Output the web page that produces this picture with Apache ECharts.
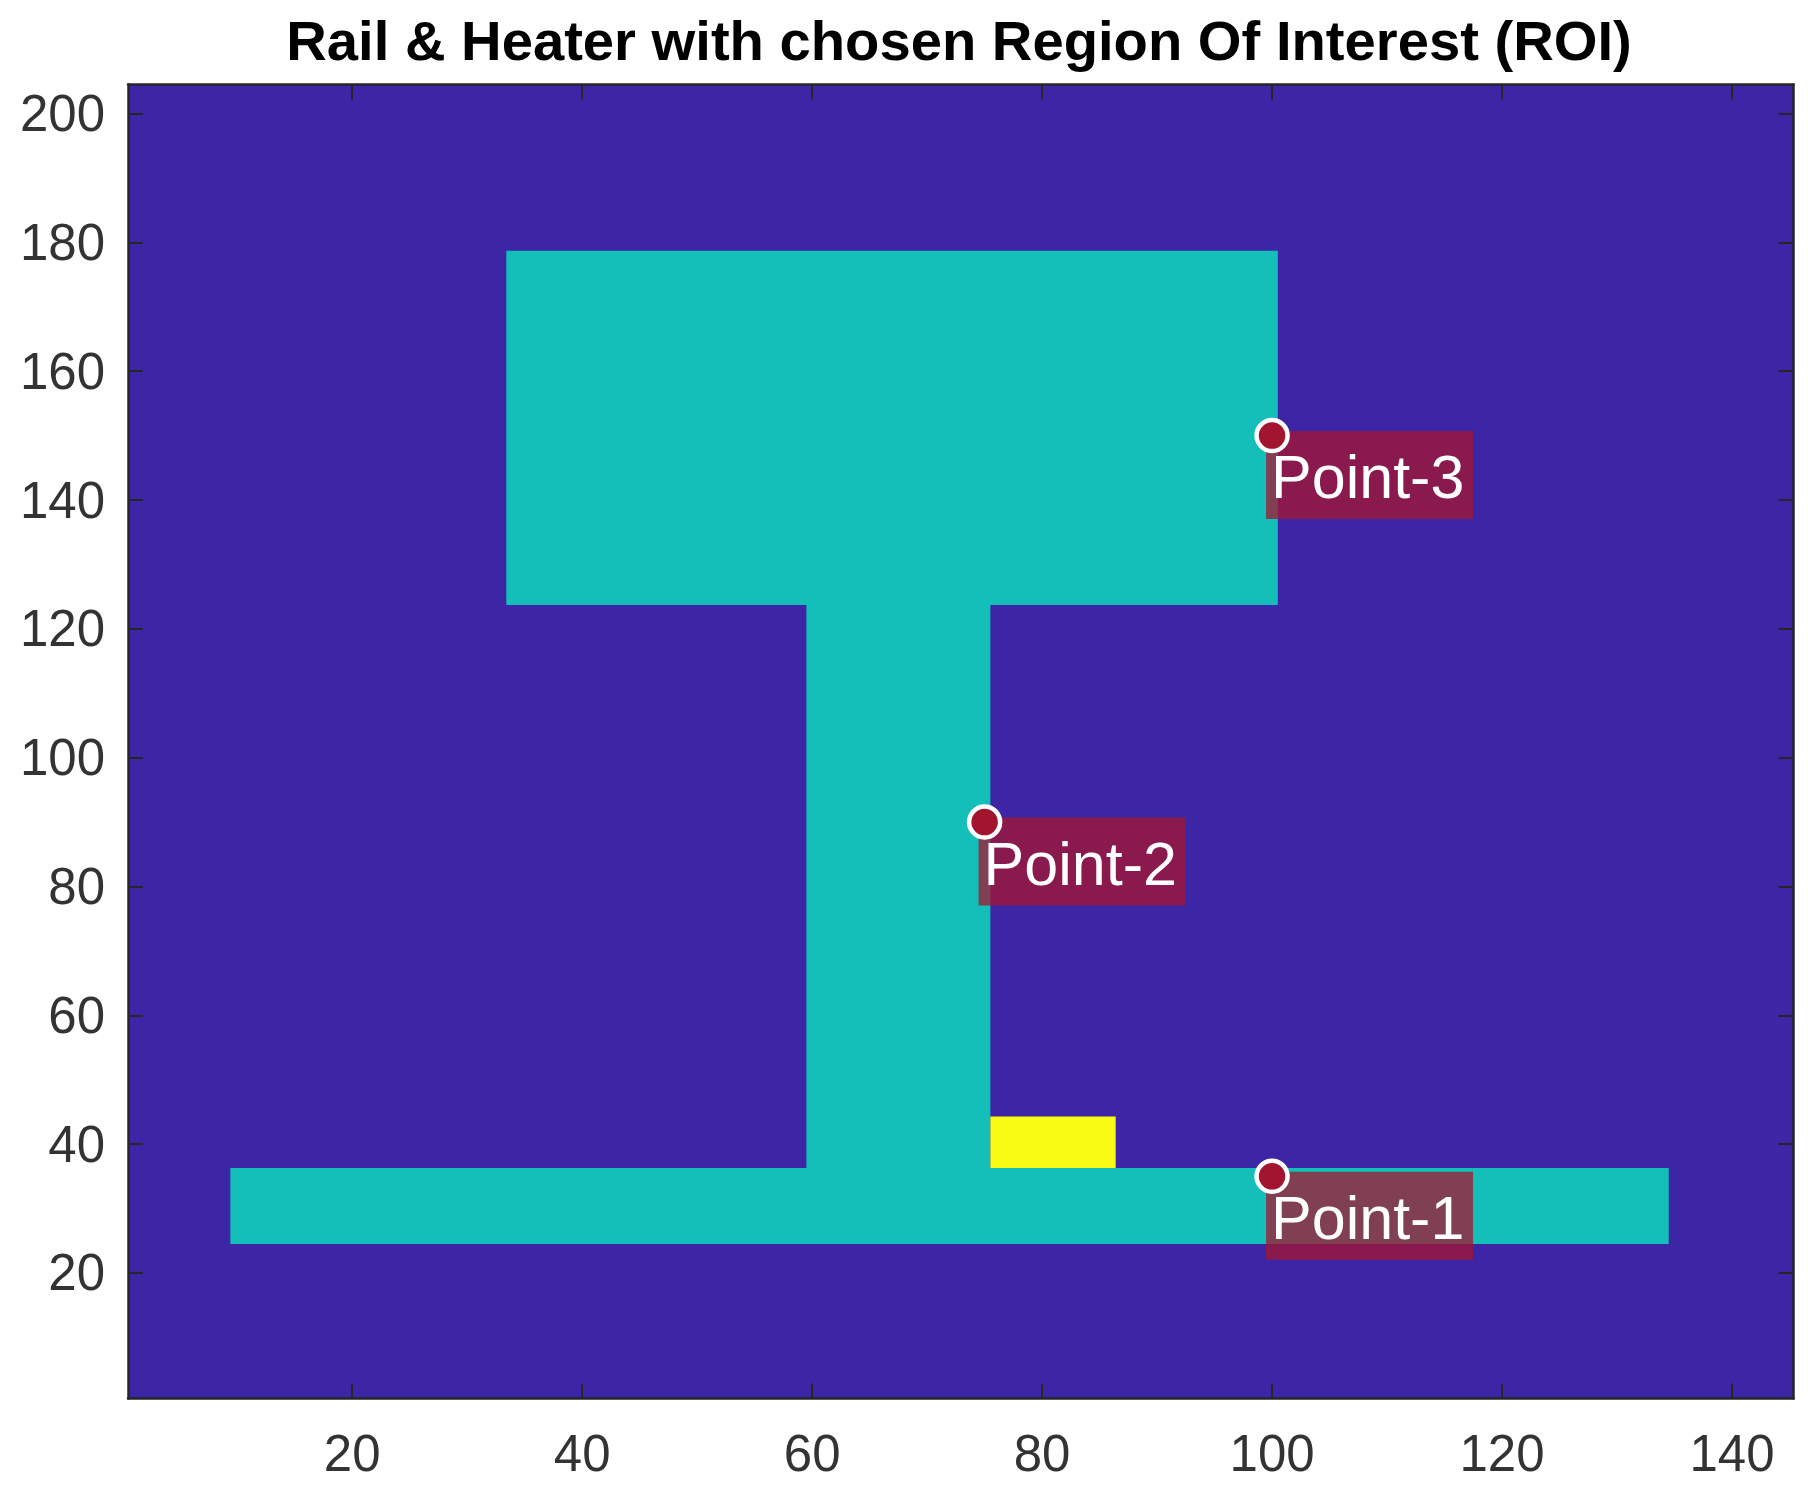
<!DOCTYPE html>
<html lang="en">

<head>
    <meta charset="UTF-8" />
    <title>Rail & Heater with chosen Region Of Interest (ROI)</title>
    <script src="https://cdn.jsdelivr.net/npm/echarts"></script>
    <style>
        html, body { margin: 0; padding: 0; background: #fff; }
        #main { width: 1819px; height: 1497px; }
    </style>
</head>

<body>
    <div id="main"></div>

    <script>
        const titleText = 'Rail & Heater with chosen Region Of Interest (ROI)';

        const xTicks = [20, 40, 60, 80, 100, 120, 140];
        const yTicks = [20, 40, 60, 80, 100, 120, 140, 160, 180, 200];

        // regions of the image, in data units: background, rail head, web, foot, heater
        const regionLevel = [0, 1, 1, 1, 2];
        const regionX0 = [0.5, 33.4, 59.5, 9.4, 75.5];
        const regionX1 = [145.5, 100.5, 75.5, 134.5, 86.4];
        const regionY0 = [0.5, 123.7, 36.3, 24.5, 36.3];
        const regionY1 = [204.5, 178.7, 123.7, 36.3, 44.3];

        const pointNames = ['Point-1', 'Point-2', 'Point-3'];
        const pointX = [100, 75, 100];
        const pointY = [35, 90, 150];

        const levelColors = ['#3d26a5', '#14beb9', '#f9fb15'];
        const axisColor = '#262626';
        const fontName = '"Liberation Sans", Arial, sans-serif';

        var chartDom = document.getElementById('main');
        var myChart = echarts.init(chartDom);

        function axisBase(extra) {
            return Object.assign({
                type: 'value',
                scale: true,
                splitLine: { show: false },
                axisLine: { show: true, onZero: false, lineStyle: { color: axisColor, width: 2.5 } },
                z: 10
            }, extra);
        }

        function xAxis(position, showLabel) {
            return axisBase({
                position: position,
                min: 0.5,
                max: 145.35,
                axisTick: { show: true, inside: true, length: 15, lineStyle: { color: axisColor, width: 2 }, customValues: xTicks },
                axisLabel: { show: showLabel, margin: 33, color: '#333', fontFamily: fontName, fontSize: 51, customValues: xTicks }
            });
        }

        function yAxis(position, showLabel) {
            return axisBase({
                position: position,
                min: 0.5,
                max: 204.5,
                axisTick: { show: true, inside: true, length: 15, lineStyle: { color: axisColor, width: 2 }, customValues: yTicks },
                // short line box hung from the tick, puts the digits a little under the tick like the original
                axisLabel: { show: showLabel, margin: 23, verticalAlign: 'top', lineHeight: 7, color: '#333', fontFamily: fontName, fontSize: 51, customValues: yTicks }
            });
        }

        var option = {
            animation: false,
            title: {
                text: titleText,
                left: 954,
                top: 12,
                textAlign: 'center',
                textStyle: { color: '#000', fontFamily: fontName, fontWeight: 'bold', fontSize: 56.2 }
            },
            grid: { left: 128, right: 25.5, top: 84.5, bottom: 98.5 },
            xAxis: [xAxis('bottom', true), xAxis('top', false)],
            yAxis: [yAxis('left', true), yAxis('right', false)],
            series: [
                {
                    type: 'custom',
                    clip: true,
                    data: regionLevel.map((lv, i) => [regionX0[i], regionX1[i], regionY0[i], regionY1[i], lv]),
                    encode: { x: [0, 1], y: [2, 3] },
                    renderItem: function (params, api) {
                        const a = api.coord([api.value(0), api.value(3)]);
                        const b = api.coord([api.value(1), api.value(2)]);
                        return {
                            type: 'rect',
                            shape: echarts.graphic.clipRectByRect(
                                { x: a[0], y: a[1], width: b[0] - a[0], height: b[1] - a[1] },
                                params.coordSys
                            ),
                            style: { fill: levelColors[api.value(4)] }
                        };
                    }
                },
                {
                    type: 'custom',
                    data: pointNames.map((name, i) => [pointX[i], pointY[i], name]),
                    encode: { x: 0, y: 1 },
                    renderItem: function (params, api) {
                        const p = api.coord([api.value(0), api.value(1)]);
                        return {
                            type: 'group',
                            children: [
                                {
                                    type: 'rect',
                                    shape: { x: p[0] - 6, y: p[1] - 4.5, width: 207, height: 88 },
                                    style: { fill: 'rgba(164, 22, 48, 0.75)' }
                                },
                                {
                                    type: 'text',
                                    style: {
                                        text: pointNames[params.dataIndex],
                                        x: p[0] - 1,
                                        y: p[1] + 46,
                                        verticalAlign: 'middle',
                                        fill: '#fff',
                                        font: '61px ' + fontName
                                    }
                                }
                            ]
                        };
                    }
                },
                {
                    type: 'scatter',
                    data: pointX.map((x, i) => [x, pointY[i]]),
                    symbol: 'circle',
                    symbolSize: 31,
                    itemStyle: { color: '#a3152e', borderColor: '#fff', borderWidth: 4.5, opacity: 1 },
                    z: 5
                }
            ]
        };

        myChart.setOption(option);
    </script>
</body>

</html>
